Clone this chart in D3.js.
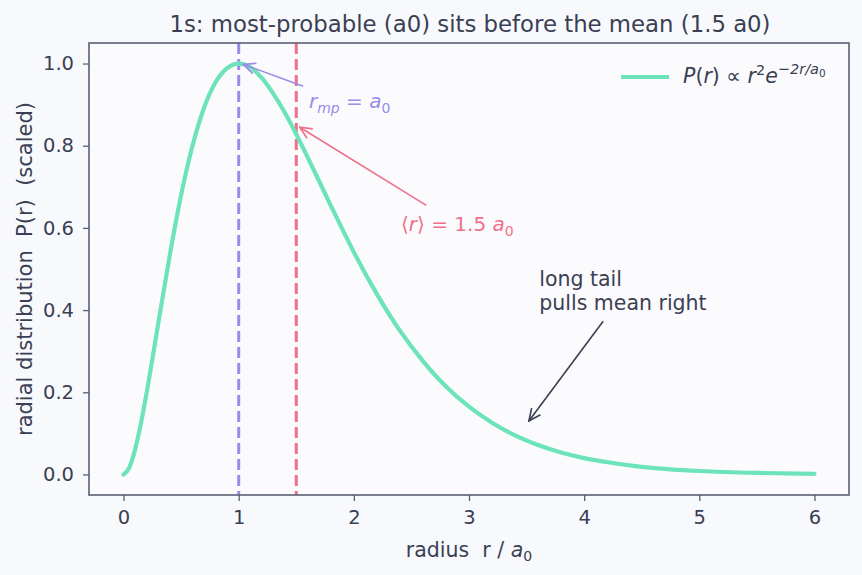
<!DOCTYPE html>
<html><head><meta charset="utf-8">
<script src="https://cdn.jsdelivr.net/npm/d3@7"></script>
<style>
body{margin:0;background:#f8f9fd;}
svg{display:block;font-family:"DejaVu Sans",sans-serif;}
svg text{white-space:pre;}
</style></head><body>
<svg id="c" width="862" height="575"></svg>
<script>
// radius r / a0 samples
const radius = [0,0.05,0.1,0.15,0.2,0.25,0.3,0.4,0.5,0.6,0.7,0.8,0.9,1.0,1.1,1.2,1.3,1.4,1.5,1.6,1.7,1.8,1.9,2.0,2.2,2.4,2.6,2.8,3.0,3.2,3.4,3.6,3.8,4.0,4.25,4.5,4.75,5.0,5.5,6.0];
// scaled radial distribution P(r)
const prob = [0,0.0167,0.0605,0.123,0.198,0.280,0.365,0.531,0.680,0.801,0.893,0.955,0.989,1.0,0.991,0.965,0.927,0.881,0.828,0.771,0.713,0.654,0.597,0.541,0.439,0.350,0.276,0.214,0.165,0.126,0.095,0.0715,0.0534,0.0397,0.0279,0.0185,0.0125,0.0084,0.0037,0.0016];
const xTicks = [0,1,2,3,4,5,6];
const yTicks = [0.0,0.2,0.4,0.6,0.8,1.0];
const rMostProbable = 1.0;
const rMean = 1.5;

const svg = d3.select("#c");
const L=89,R=849,T=43,B=495;
const x = d3.scaleLinear().domain([-0.3,6.3]).range([L,R]);
const y = d3.scaleLinear().domain([-0.05,1.05]).range([B,T]);
const txt="#3a4052", spine="#5b5f72";
const purple="#9a8ce8", pink="#f07088", green="#6de3b9";

svg.append("rect").attr("width",862).attr("height",575).attr("fill","#f8f9fd");
svg.append("rect").attr("x",L).attr("y",T).attr("width",R-L).attr("height",B-T).attr("fill","#fbfbfe");

// vertical lines
svg.append("line").attr("x1",x(rMostProbable)).attr("x2",x(rMostProbable)).attr("y1",T).attr("y2",B)
  .attr("stroke",purple).attr("stroke-width",3).attr("stroke-dasharray","11,5");
svg.append("line").attr("x1",x(rMean)).attr("x2",x(rMean)).attr("y1",T).attr("y2",B)
  .attr("stroke",pink).attr("stroke-width",3).attr("stroke-dasharray","11,5");

// curve
const pts = radius.map((r,i)=>[r,prob[i]]);
svg.append("path").datum(pts)
  .attr("d",d3.line().x(d=>x(d[0])).y(d=>y(d[1])).curve(d3.curveMonotoneX))
  .attr("fill","none").attr("stroke",green).attr("stroke-width",4.2).attr("stroke-linecap","round");

// axes
const xa = svg.append("g").attr("transform",`translate(0,${B})`)
  .call(d3.axisBottom(x).tickValues(xTicks).tickFormat(d3.format("d")).tickSize(6).tickPadding(9));
const ya = svg.append("g").attr("transform",`translate(${L},0)`)
  .call(d3.axisLeft(y).tickValues(yTicks).tickFormat(d3.format(".1f")).tickSize(6).tickPadding(9));
[xa,ya].forEach(g=>{
  g.select(".domain").remove();
  g.selectAll("line").attr("stroke",spine).attr("stroke-width",1.3);
  g.selectAll("text").attr("fill",txt).attr("font-size",19.5).attr("font-family","DejaVu Sans");
});
svg.append("rect").attr("x",L).attr("y",T).attr("width",R-L).attr("height",B-T)
  .attr("fill","none").attr("stroke",spine).attr("stroke-width",1.6);

// title & labels
svg.append("text").attr("x",(L+R)/2+1).attr("y",32).attr("text-anchor","middle")
  .attr("fill",txt).attr("font-size",22.8).text("1s: most-probable (a0) sits before the mean (1.5 a0)");
const xl = svg.append("text").attr("x",(L+R)/2).attr("y",557).attr("text-anchor","middle")
  .attr("fill",txt).attr("font-size",20.5);
xl.append("tspan").text("radius  r / ");
xl.append("tspan").attr("font-style","italic").text("a");
xl.append("tspan").attr("font-size",14).attr("dy",4).text("0");
svg.append("text").attr("transform",`translate(32,${(T+B)/2}) rotate(-90)`).attr("text-anchor","middle")
  .attr("fill",txt).attr("font-size",21).text("radial distribution  P(r)  (scaled)");

// arrow markers
const defs = svg.append("defs");
function marker(id,color){
  defs.append("marker").attr("id",id).attr("viewBox","0 0 14 14").attr("refX",13).attr("refY",7)
    .attr("markerWidth",14).attr("markerHeight",14).attr("markerUnits","userSpaceOnUse").attr("orient","auto")
    .append("path").attr("d","M1,1.5 L13,7 L1,12.5").attr("fill","none").attr("stroke",color).attr("stroke-width",1.6);
}
marker("mp",purple); marker("mn",pink); marker("tl",txt);

// most probable annotation
svg.append("line").attr("x1",x(1.56)).attr("y1",y(0.945)).attr("x2",x(1.04)).attr("y2",y(0.998))
  .attr("stroke",purple).attr("stroke-width",1.6).attr("marker-end","url(#mp)");
const t1 = svg.append("text").attr("x",x(1.61)).attr("y",y(0.893)).attr("fill",purple).attr("font-size",20);
t1.append("tspan").attr("font-style","italic").text("r");
t1.append("tspan").attr("font-style","italic").attr("font-size",14).attr("dy",5).text("mp");
t1.append("tspan").attr("dy",-5).text(" = ");
t1.append("tspan").attr("font-style","italic").text("a");
t1.append("tspan").attr("font-size",14).attr("dy",5).text("0");

// mean annotation
svg.append("line").attr("x1",x(2.63)).attr("y1",y(0.655)).attr("x2",x(1.53)).attr("y2",y(0.845))
  .attr("stroke",pink).attr("stroke-width",1.6).attr("marker-end","url(#mn)");
const t2 = svg.append("text").attr("x",x(2.41)).attr("y",y(0.593)).attr("fill",pink).attr("font-size",20);
t2.append("tspan").text("⟨");
t2.append("tspan").attr("font-style","italic").text("r");
t2.append("tspan").text("⟩ = 1.5 ");
t2.append("tspan").attr("font-style","italic").text("a");
t2.append("tspan").attr("font-size",14).attr("dy",5).text("0");

// tail annotation
svg.append("line").attr("x1",x(4.165)).attr("y1",y(0.373)).attr("x2",x(3.52)).attr("y2",y(0.13))
  .attr("stroke",txt).attr("stroke-width",1.6).attr("marker-end","url(#tl)");
svg.append("text").attr("x",x(3.61)).attr("y",y(0.458)).attr("fill",txt).attr("font-size",20.5).text("long tail");
svg.append("text").attr("x",x(3.61)).attr("y",y(0.40)).attr("fill",txt).attr("font-size",20.5).text("pulls mean right");

// legend
svg.append("line").attr("x1",621).attr("x2",669).attr("y1",77).attr("y2",77).attr("stroke",green).attr("stroke-width",4);
const lg = svg.append("text").attr("x",683).attr("y",83).attr("fill",txt).attr("font-size",20.5);
lg.append("tspan").attr("font-style","italic").text("P");
lg.append("tspan").text("(");
lg.append("tspan").attr("font-style","italic").text("r");
lg.append("tspan").text(") ∝ ");
lg.append("tspan").attr("font-style","italic").text("r");
lg.append("tspan").attr("font-size",14.5).attr("dy",-8).text("2");
lg.append("tspan").attr("font-style","italic").attr("dy",8).text("e");
lg.append("tspan").attr("font-style","italic").attr("font-size",14.5).attr("dy",-9).text("−2r/a");
lg.append("tspan").attr("font-size",10.5).attr("dy",3).text("0");
</script></body></html>
